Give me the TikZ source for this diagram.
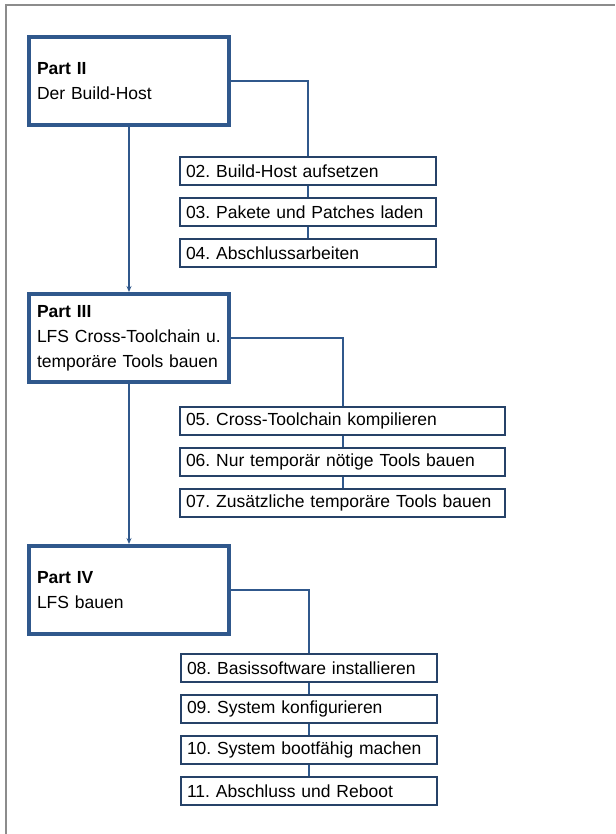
\documentclass[tikz,border=0pt]{standalone}
\usepackage{fontspec}
\setmainfont{Liberation Sans}
\usetikzlibrary{positioning,arrows.meta}
\definecolor{partblue}{RGB}{48,88,140}
\definecolor{stepblue}{RGB}{38,66,104}
\tikzset{
  partbox/.style={draw=partblue, line width=4pt, fill=white, text width=184pt, inner xsep=8pt,
    minimum height=88pt, align=left, font=\fontsize{17.5}{25}\selectfont\frenchspacing},
  stepbox/.style={draw=stepblue, line width=2pt, fill=white, inner xsep=6pt, inner ysep=0pt,
    minimum height=28pt, align=left, font=\fontsize{17.5}{21}\selectfont\frenchspacing},
  link/.style={draw=partblue, line width=2pt},
}

\begin{document}
\begin{tikzpicture}[x=1pt, y=-1pt, node distance=11pt]
		%%%%% FRAME %%%%%
		\useasboundingbox (0,0) rectangle (615,834);
		\draw[black!45, line width=1.5pt] (6,834) -- (6,5) -- (615,5);
		
		%%%%% PARTS %%%%%
		\node[partbox] (p2) at (129,81) {\textbf{Part II}\\Der Build-Host};
		\node[partbox] (p3) at (129,338) {\textbf{Part III}\\LFS Cross-Toolchain u.\\temporäre Tools bauen};
		\node[partbox] (p4) at (129,590) {\textbf{Part IV}\\LFS bauen};
		
		%%%%% CHAPTERS %%%%%
		\node[stepbox, text width=244pt, anchor=north west] (s02) at (179,156) {02. Build-Host aufsetzen};
		\node[stepbox, text width=244pt, below=of s02] (s03) {03. Pakete und Patches laden};
		\node[stepbox, text width=244pt, below=of s03] (s04) {04. Abschlussarbeiten};
		
		\node[stepbox, text width=313pt, anchor=north west] (s05) at (179,406) {05. Cross-Toolchain kompilieren};
		\node[stepbox, text width=313pt, below=of s05] (s06) {06. Nur temporär nötige Tools bauen};
		\node[stepbox, text width=313pt, below=of s06] (s07) {07. Zusätzliche temporäre Tools bauen};
		
		\node[stepbox, text width=244pt, anchor=north west] (s08) at (180,653) {08. Basissoftware installieren};
		\node[stepbox, text width=244pt, below=of s08] (s09) {09. System konfigurieren};
		\node[stepbox, text width=244pt, below=of s09] (s10) {10. System bootfähig machen};
		\node[stepbox, text width=244pt, below=of s10] (s11) {11. Abschluss und Reboot};
		
		%%%%% LINKS %%%%%
		\draw[link] (p2.east) -| (s02.north);
		\draw[link] (s02) -- (s03);
		\draw[link] (s03) -- (s04);
		\draw[link, -{Stealth[length=6pt, width=5pt]}] (p2.south) -- (p3.north);
		
		\draw[link] (p3.east) -| (s05.north);
		\draw[link] (s05) -- (s06);
		\draw[link] (s06) -- (s07);
		\draw[link, -{Stealth[length=6pt, width=5pt]}] (p3.south) -- (p4.north);
		
		\draw[link] (p4.east) -| (s08.north);
		\draw[link] (s08) -- (s09);
		\draw[link] (s09) -- (s10);
		\draw[link] (s10) -- (s11);
\end{tikzpicture}
\end{document}
